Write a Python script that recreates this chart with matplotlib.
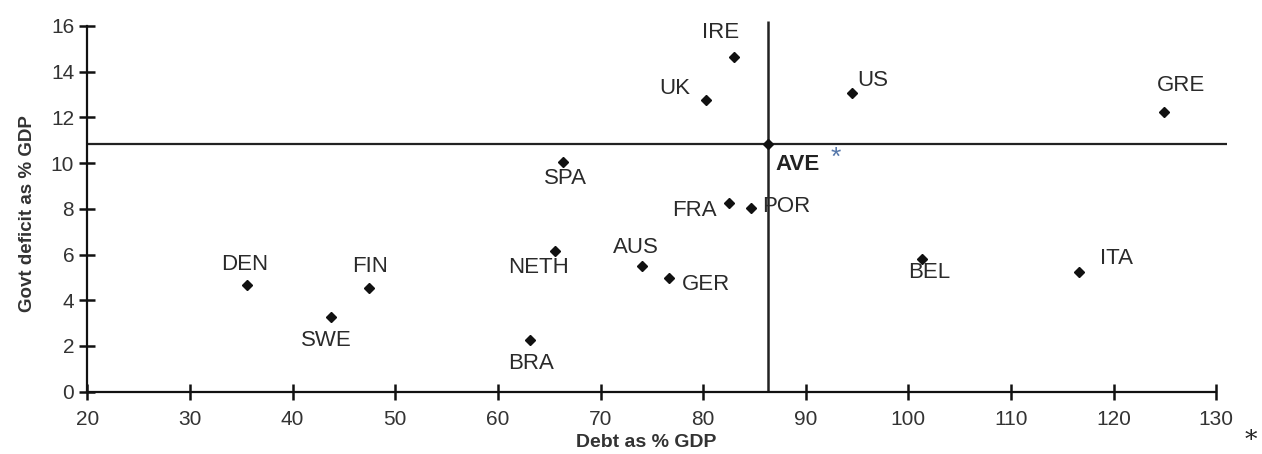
import matplotlib.pyplot as plt

plt.rcParams['font.family'] = ['Liberation Sans', 'DejaVu Sans']

# datos
paises = ["IRE", "UK", "US", "FRA", "POR", "AUS", "GER", "DEN", "FIN", "SWE",
          "SPA", "NETH", "BRA", "BEL", "ITA", "GRE"]
deuda = [83.0, 80.3, 94.5, 82.5, 84.7, 74.0, 76.7, 35.6, 47.4, 43.7,
         66.3, 65.6, 63.1, 101.3, 116.6, 124.9]
deficit = [14.65, 12.76, 13.08, 8.27, 8.02, 5.5, 4.96, 4.67, 4.52, 3.25,
           10.05, 6.15, 2.26, 5.8, 5.25, 12.25]
ave_deuda = 86.3
ave_deficit = 10.84

xticks = [20, 30, 40, 50, 60, 70, 80, 90, 100, 110, 120, 130]
yticks = [0, 2, 4, 6, 8, 10, 12, 14, 16]

# desplazamiento de cada etiqueta (pixeles) y alineacion
offs = {
    "IRE": (-13, 24, "center"), "UK": (-31, 11, "center"), "US": (5, 12, "left"),
    "FRA": (-12, -8, "right"), "POR": (11, 2, "left"), "AUS": (-6, 18, "center"),
    "GER": (13, -6, "left"), "DEN": (-3, 20, "center"), "FIN": (2, 22, "center"),
    "SWE": (-4, -23, "center"), "SPA": (3, -17, "center"), "NETH": (-17, -16, "center"),
    "BRA": (1, -23, "center"), "BEL": (7, -13, "center"), "ITA": (21, 13, "left"),
    "GRE": (17, 26, "center"),
}

fig = plt.figure(figsize=(12.62, 4.54), dpi=100)
ax = fig.add_axes([0.0692, 0.1372, 0.9068, 0.8208])

ax.vlines(ave_deuda, 0, 16.2, color="#222222", lw=1.8)
ax.hlines(ave_deficit, 20, 131, color="#222222", lw=1.6)

ax.plot(deuda, deficit, "D", color="#111111", markersize=5.2, ls="none")
ax.plot([ave_deuda], [ave_deficit], "D", color="#111111", markersize=5.2)

for p, x, y in zip(paises, deuda, deficit):
    dx, dy, ha = offs[p]
    ax.annotate(p, (x, y), xytext=(dx, dy), textcoords="offset pixels",
                ha=ha, va="center", fontsize=16, color="#2a2a2a")

ax.annotate("AVE", (ave_deuda, ave_deficit), xytext=(8, -21), textcoords="offset pixels",
            ha="left", va="center", fontsize=16, fontweight="bold", color="#222222")
ax.annotate("*", (ave_deuda, ave_deficit), xytext=(68, -14), textcoords="offset pixels",
            ha="center", va="center", fontsize=19, color="#5577aa")

ax.set_xlim(20, 131.5)
ax.set_ylim(0, 16.3)
ax.set_xticks(xticks)
ax.set_yticks(yticks)
ax.spines["top"].set_visible(False)
ax.spines["right"].set_visible(False)
ax.spines["left"].set_bounds(0, 16)
ax.spines["bottom"].set_bounds(20, 130)
for s in ["left", "bottom"]:
    ax.spines[s].set_linewidth(1.6)
    ax.spines[s].set_color("#111111")
ax.tick_params(direction="inout", length=11, width=1.8, color="#111111",
               labelsize=15, labelcolor="#333333")
ax.tick_params(axis="x", pad=8)
ax.tick_params(axis="y", pad=4)

fig.text(0.512, 0.026, "Debt as % GDP", ha="center", va="center",
         fontsize=14, fontweight="bold", color="#333333")
fig.text(0.022, 0.53, "Govt deficit as % GDP", ha="center", va="center",
         rotation=90, fontsize=13.5, fontweight="bold", color="#333333")
fig.text(0.996, 0.004, "*", ha="right", va="bottom", fontsize=18,
         family="DejaVu Serif", color="#222222")

fig.savefig("out.png", dpi=100)
